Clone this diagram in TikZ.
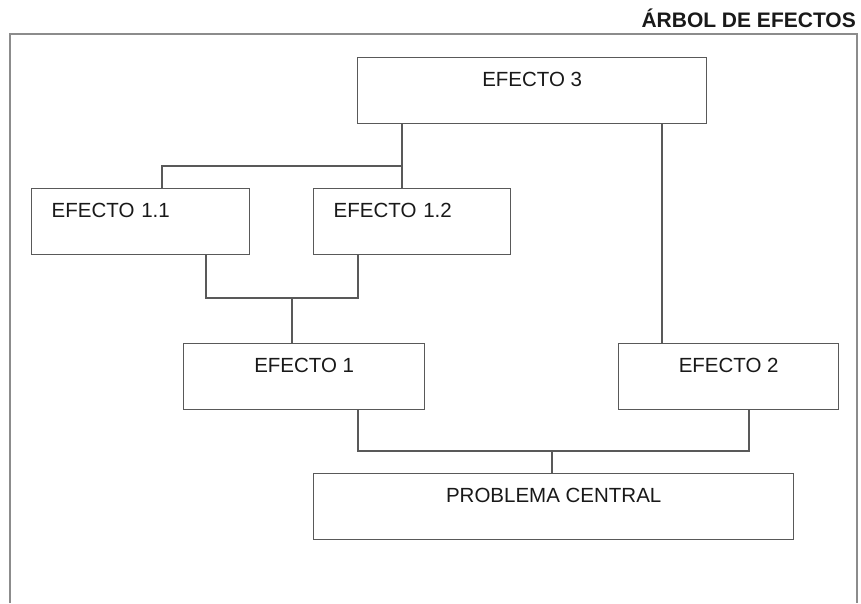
\documentclass[tikz,border=0pt]{standalone}
\usepackage{fontspec}
\setmainfont{Liberation Sans}
\tikzset{
  efecto/.style={draw=black!65, line width=1.4pt, rectangle, inner sep=0pt,
    anchor=north west, text height=29pt, text depth=37pt,
    font=\fontsize{20.5}{20.5}\selectfont, text=black!90},
  conector/.style={draw=black!65, line width=1.3pt},
}
\begin{document}
\begin{tikzpicture}[x=1pt, y=-1pt]
  \useasboundingbox (0,0) rectangle (861,603);
  % marco
  \draw[black!45, line width=2.2pt] (10,603) -- (10,34) -- (857,34) -- (857,603);
  \node[anchor=base east, inner sep=0pt, font=\bfseries\fontsize{21}{21}\selectfont, text=black!90] (titulo) at (856,27) {ÁRBOL DE EFECTOS};
  % cajas
  \node[efecto, minimum width=349pt] (e3) at (357,57) {EFECTO 3};
  \node[efecto, minimum width=218pt, text width=178pt, inner xsep=20pt, align=left] (e11) at (31,188) {EFECTO 1.1};
  \node[efecto, minimum width=197pt, text width=157pt, inner xsep=20pt, align=left] (e12) at (313,188) {EFECTO 1.2};
  \node[efecto, minimum width=241pt] (e1) at (183,343) {EFECTO 1};
  \node[efecto, minimum width=220pt] (e2) at (618,343) {EFECTO 2};
  \node[efecto, minimum width=480pt] (pc) at (313,473) {PROBLEMA CENTRAL};
  % puntos de union
  \coordinate (a3) at (402,166);
  \coordinate (b3) at (162,166);
  \coordinate (c3) at (662,166);
  \coordinate (a1) at (206,298);
  \coordinate (b1) at (358,298);
  \coordinate (m1) at (292,298);
  \coordinate (a0) at (358,451);
  \coordinate (b0) at (749,451);
  \coordinate (m0) at (552,451);
  % conectores
  \draw[conector] (e3.south -| a3) -- (e12.north -| a3);
  \draw[conector] (a3) -- (b3) -- (e11.north -| b3);
  \draw[conector] (e3.south -| c3) -- (e2.north -| c3);
  \draw[conector] (e11.south -| a1) -- (a1) -- (b1) -- (e12.south -| b1);
  \draw[conector] (m1) -- (e1.north -| m1);
  \draw[conector] (e1.south -| a0) -- (a0) -- (b0) -- (e2.south -| b0);
  \draw[conector] (m0) -- (pc.north -| m0);
\end{tikzpicture}
\end{document}
